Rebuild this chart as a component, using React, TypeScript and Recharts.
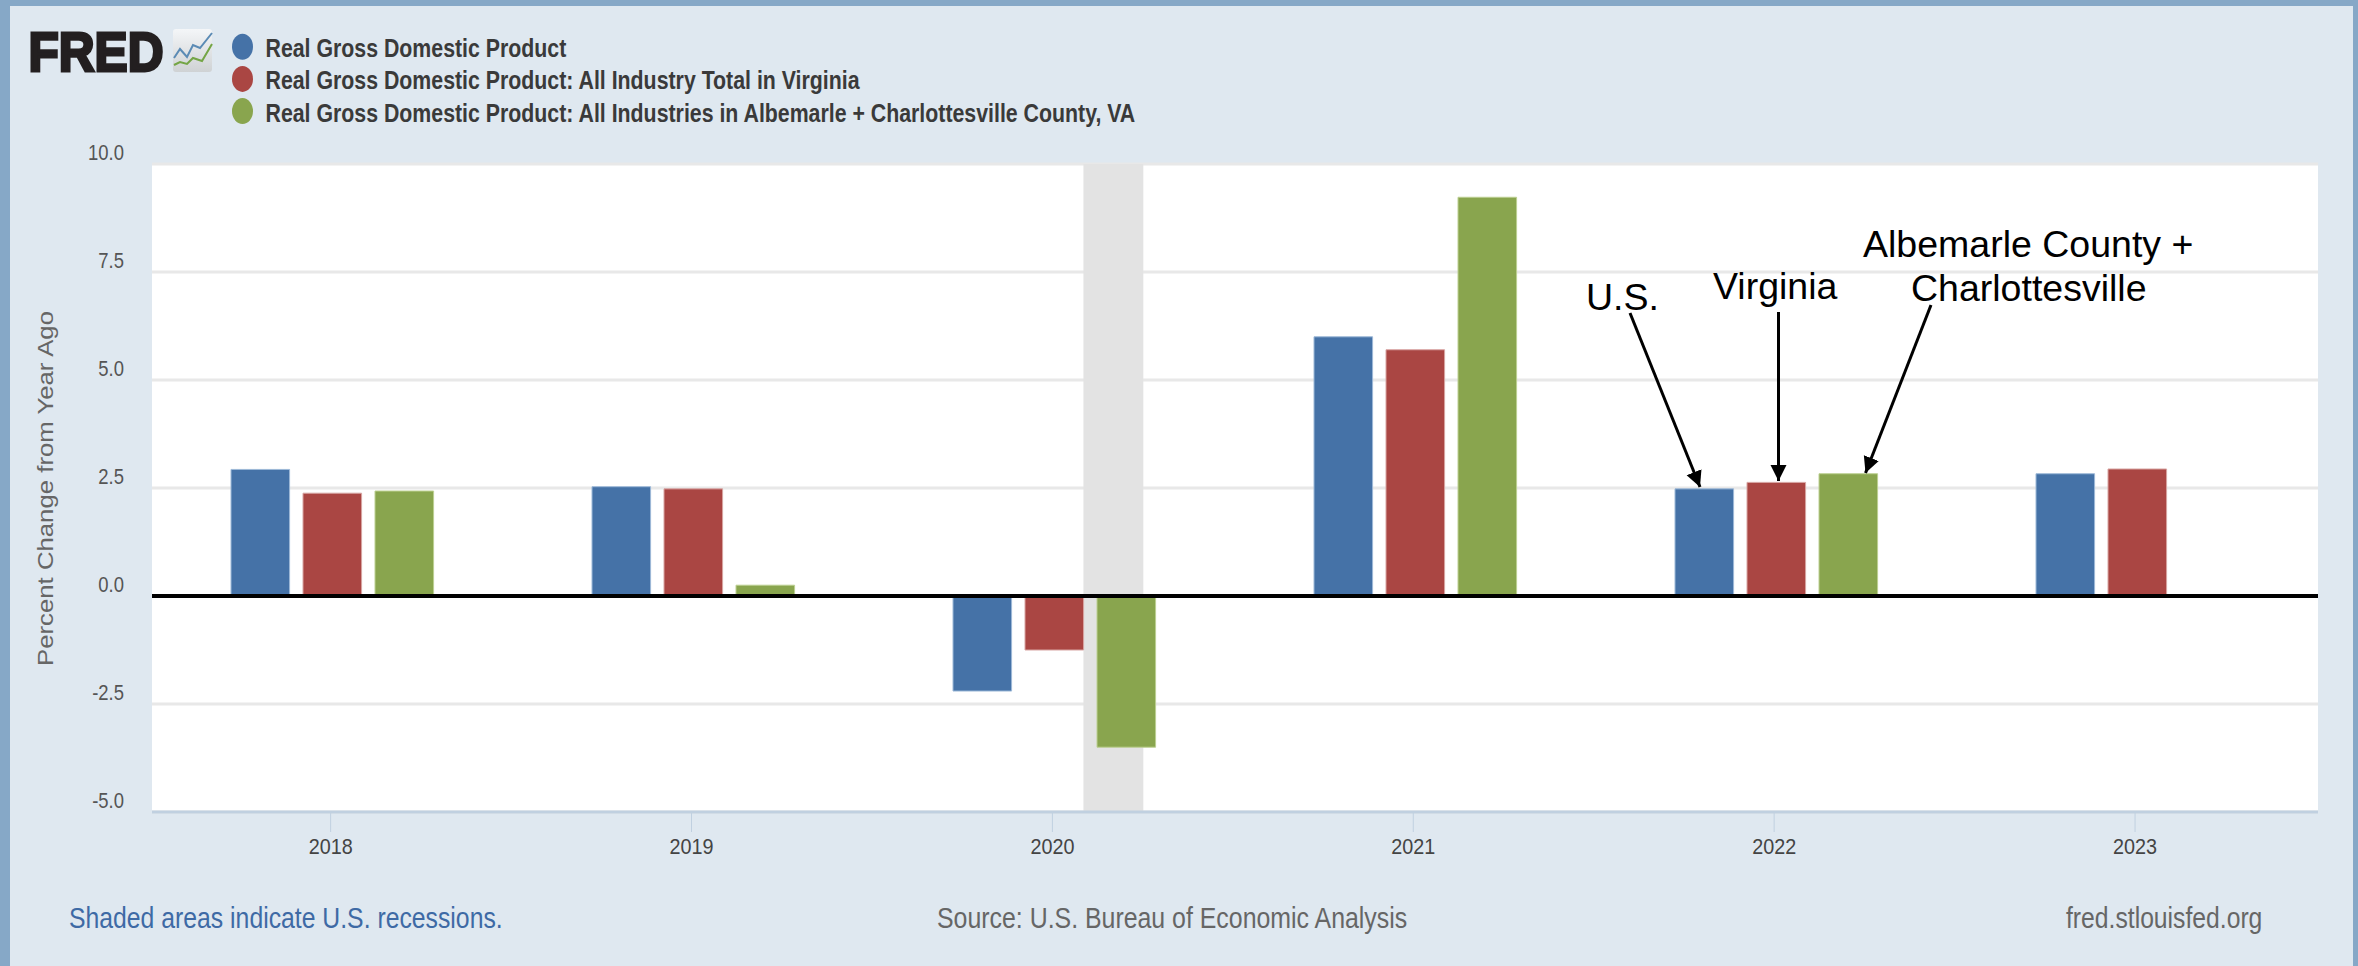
import React from "react";
import { BarChart, Bar, XAxis, YAxis, CartesianGrid, ReferenceLine, ReferenceArea } from "recharts";

const years = [2018, 2019, 2020, 2021, 2022, 2023];
const usValues = [2.93, 2.53, -2.2, 6.0, 2.48, 2.83];
const virginiaValues = [2.38, 2.48, -1.25, 5.7, 2.63, 2.94];
const albemarleValues: (number | null)[] = [2.43, 0.25, -3.5, 9.23, 2.83, null];
const yTicks = [-5, -2.5, 0, 2.5, 5, 7.5, 10];
const seriesNames = [
  "Real Gross Domestic Product",
  "Real Gross Domestic Product: All Industry Total in Virginia",
  "Real Gross Domestic Product: All Industries in Albemarle + Charlottesville County, VA",
];
const seriesColors = ["#4572a7", "#aa4643", "#89a54e"];
const seriesEdges = ["#9db9d8", "#d8a5a3", "#bdd092"];
const recession = [2020.086, 2020.252];

const data = years.map((year, i) => ({
  label: String(year),
  year,
  us: usValues[i],
  virginia: virginiaValues[i],
  albemarle: albemarleValues[i],
}));

const FONT = "'Liberation Sans', Arial, sans-serif";

const YTick = (props: any) => (
  <text
    transform={`translate(124,${props.y - 4}) scale(0.84,1)`}
    textAnchor="end"
    fontFamily={FONT}
    fontSize={22}
    fill="#555"
  >
    {props.payload.value.toFixed(1)}
  </text>
);
const XTick = (props: any) => (
  <text
    transform={`translate(${props.x},854) scale(0.9,1)`}
    textAnchor="middle"
    fontFamily={FONT}
    fontSize={22}
    fill="#444"
  >
    {props.payload.value}
  </text>
);

function Overlay() {
  return (
    <svg width={2358} height={966} style={{ position: "absolute", left: 0, top: 0, pointerEvents: "none" }}>
      <defs>
        <marker id="head" markerUnits="userSpaceOnUse" markerWidth={18} markerHeight={18} refX={16} refY={8} orient="auto">
          <path d="M0,0 L16,8 L0,16 Z" fill="#000" />
        </marker>
        <linearGradient id="icon" x1="0" y1="0" x2="0" y2="1">
          <stop offset="0" stopColor="#f4f6f8" />
          <stop offset="1" stopColor="#cfd2d4" />
        </linearGradient>
      </defs>
      {/* frame */}
      <rect x={0} y={0} width={2358} height={6} fill="#86a8c7" />
      <rect x={0} y={0} width={10} height={966} fill="#86a8c7" />
      <rect x={2353} y={0} width={5} height={966} fill="#86a8c7" />
      {/* logo */}
      <text x={28.5} y={70.5} fontFamily={FONT} fontWeight={700} fontSize={56} fill="#231f20" stroke="#231f20" strokeWidth={3} textLength={135} lengthAdjust="spacingAndGlyphs">
        FRED
      </text>
      <rect x={173} y={29} width={39} height={43} rx={3} fill="url(#icon)" />
      <polyline points="174,58 180,49 187,57 193,45 200,48 212,33" fill="none" stroke="#5b8bb5" strokeWidth={2} />
      <polyline points="174,65 180,62 187,64 193,58 202,61 212,44" fill="none" stroke="#74a545" strokeWidth={2} />
      {/* legend */}
      {seriesNames.map((name, i) => (
        <g key={name}>
          <ellipse cx={242.5} cy={46.7 + i * 32.2} rx={10.5} ry={13} fill={seriesColors[i]} />
          <text transform={`translate(265.5,${57 + i * 32.4}) scale(0.853,1)`} fontFamily={FONT} fontWeight={700} fontSize={25} fill="#3a3a3a">
            {name}
          </text>
        </g>
      ))}
      {/* y title */}
      <text transform="translate(53,488.5) rotate(-90) scale(1.12,1)" textAnchor="middle" fontFamily={FONT} fontSize={23} fill="#666">
        Percent Change from Year Ago
      </text>
      {/* annotations */}
      <g fontFamily={FONT} fontSize={37.5} fill="#000">
        <text x={1586} y={310}>U.S.</text>
        <text x={1713} y={299}>Virginia</text>
        <text x={1863} y={257}>Albemarle County +</text>
        <text x={1911} y={301}>Charlottesville</text>
      </g>
      <g stroke="#000" strokeWidth={3}>
        <line x1={1630} y1={313} x2={1700} y2={487} markerEnd="url(#head)" />
        <line x1={1778.5} y1={312} x2={1778.5} y2={481} markerEnd="url(#head)" />
        <line x1={1931} y1={305} x2={1865.5} y2={473} markerEnd="url(#head)" />
      </g>
      {/* footer */}
      <g fontFamily={FONT} fontSize={30}>
        <text transform="translate(69,928) scale(0.826,1)" fill="#3e6aa5">Shaded areas indicate U.S. recessions.</text>
        <text transform="translate(937,928) scale(0.83,1)" fill="#666">Source: U.S. Bureau of Economic Analysis</text>
        <text transform="translate(2066,928) scale(0.824,1)" fill="#666">fred.stlouisfed.org</text>
      </g>
    </svg>
  );
}

export default function App() {
  return (
    <div style={{ position: "absolute", left: 0, top: 0, width: 2358, height: 966, background: "#dfe8f0", overflow: "hidden" }}>
      <BarChart
        width={2358}
        height={966}
        data={data}
        margin={{ top: 164, right: 40, bottom: 94, left: 52 }}
        barGap={13.4}
        barSize={58.6}
      >
        <CartesianGrid horizontal vertical={false} stroke="#e8e8e8" strokeWidth={3} fill="#ffffff" fillOpacity={1} xAxisId="time" />
        <XAxis dataKey="label" hide height={0} interval={0} />
        <XAxis
          xAxisId="time"
          dataKey="year"
          type="number"
          domain={[2017.505, 2023.507]}
          ticks={years}
          allowDataOverflow
          height={60}
          tick={<XTick />}
          tickSize={20}
          tickLine={{ stroke: "#c0d0e0", strokeWidth: 1 }}
          axisLine={{ stroke: "#c0d0e0", strokeWidth: 3 }}
          interval={0}
        />
        <YAxis width={100} domain={[-5, 10]} ticks={yTicks} tick={<YTick />} axisLine={false} tickLine={false} interval={0} />
        <ReferenceArea xAxisId="time" x1={recession[0]} x2={recession[1]} y1={-5} y2={10} fill="#e3e3e3" fillOpacity={1} stroke="none" />
        <Bar dataKey="us" name={seriesNames[0]} fill={seriesColors[0]} stroke={seriesEdges[0]} strokeWidth={1} isAnimationActive={false} />
        <Bar dataKey="virginia" name={seriesNames[1]} fill={seriesColors[1]} stroke={seriesEdges[1]} strokeWidth={1} isAnimationActive={false} />
        <Bar dataKey="albemarle" name={seriesNames[2]} fill={seriesColors[2]} stroke={seriesEdges[2]} strokeWidth={1} isAnimationActive={false} />
        <ReferenceLine y={0} stroke="#000" strokeWidth={4} />
      </BarChart>
      <Overlay />
    </div>
  );
}
